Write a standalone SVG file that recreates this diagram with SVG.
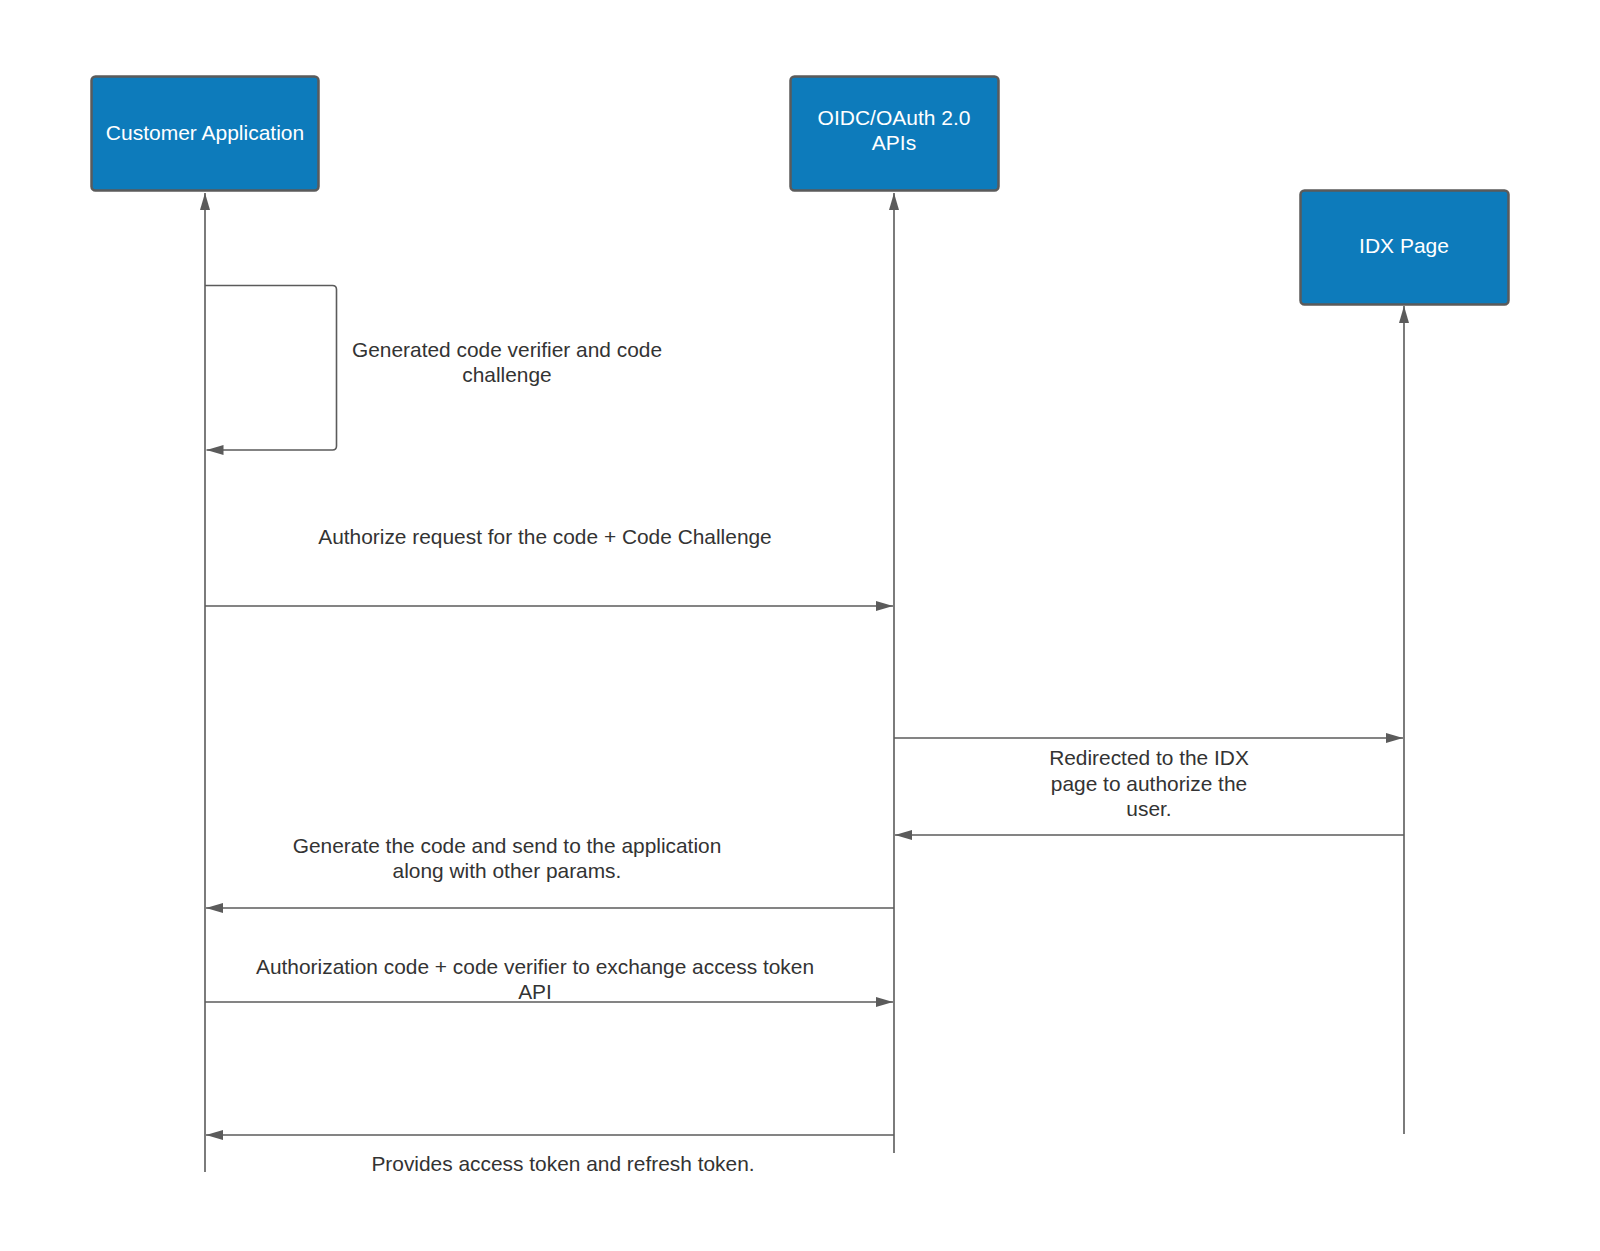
<svg xmlns="http://www.w3.org/2000/svg" width="1600" height="1251" viewBox="0 0 1600 1251">
<style>
.box{fill:#0d7bbb;stroke:#5b5b5b;stroke-width:2.5}
.bt{font-family:"Liberation Sans",Arial,sans-serif;font-size:21px;fill:#ffffff;text-anchor:middle}
.lbl{font-family:"Liberation Sans",Arial,sans-serif;font-size:20.9px;fill:#333333;text-anchor:middle}
.ln{fill:none;stroke:#5b5b5b;stroke-width:1.6}
</style>
<defs>
<marker id="ah" markerUnits="userSpaceOnUse" markerWidth="18" markerHeight="12" viewBox="0 0 18 12" refX="17" refY="6" orient="auto">
<path d="M0,1 L17,6 L0,11 Z" fill="#5b5b5b"/>
</marker>
</defs>
<rect width="1600" height="1251" fill="#ffffff"/>
<g id="connectors">
<line class="ln" x1="205" y1="1172" x2="205" y2="193" marker-end="url(#ah)"/>
<line class="ln" x1="894" y1="1153" x2="894" y2="193" marker-end="url(#ah)"/>
<line class="ln" x1="1404" y1="1134" x2="1404" y2="306" marker-end="url(#ah)"/>
<path class="ln" d="M205,285.5 H332.5 Q336.5,285.5 336.5,289.5 V446 Q336.5,450 332.5,450 H206.5" marker-end="url(#ah)"/>
<line class="ln" x1="205" y1="606" x2="893" y2="606" marker-end="url(#ah)"/>
<line class="ln" x1="894" y1="738" x2="1403" y2="738" marker-end="url(#ah)"/>
<line class="ln" x1="1404" y1="835" x2="895" y2="835" marker-end="url(#ah)"/>
<line class="ln" x1="894" y1="908" x2="206" y2="908" marker-end="url(#ah)"/>
<line class="ln" x1="205" y1="1002" x2="893" y2="1002" marker-end="url(#ah)"/>
<line class="ln" x1="894" y1="1135" x2="206" y2="1135" marker-end="url(#ah)"/>
<text class="lbl" x="507" y="357">Generated code verifier and code</text>
<text class="lbl" x="507" y="382">challenge</text>
<text class="lbl" x="545" y="544">Authorize request for the code + Code Challenge</text>
<text class="lbl" x="1149" y="765">Redirected to the IDX</text>
<text class="lbl" x="1149" y="791">page to authorize the</text>
<text class="lbl" x="1149" y="816">user.</text>
<text class="lbl" x="507" y="853">Generate the code and send to the application</text>
<text class="lbl" x="507" y="878">along with other params.</text>
<text class="lbl" x="535" y="974">Authorization code + code verifier to exchange access token</text>
<text class="lbl" x="535" y="999">API</text>
<text class="lbl" x="563" y="1171">Provides access token and refresh token.</text>
</g>
<g id="customer-application">
<rect class="box" x="91.5" y="76.5" width="227" height="114" rx="4"/>
<text class="bt" x="205" y="140">Customer Application</text>
</g>
<g id="oidc-apis">
<rect class="box" x="790.5" y="76.5" width="208" height="114" rx="4"/>
<text class="bt" x="894" y="125">OIDC/OAuth 2.0</text>
<text class="bt" x="894" y="150">APIs</text>
</g>
<g id="idx-page">
<rect class="box" x="1300.5" y="190.5" width="208" height="114" rx="4"/>
<text class="bt" x="1404" y="253">IDX Page</text>
</g>
</svg>
